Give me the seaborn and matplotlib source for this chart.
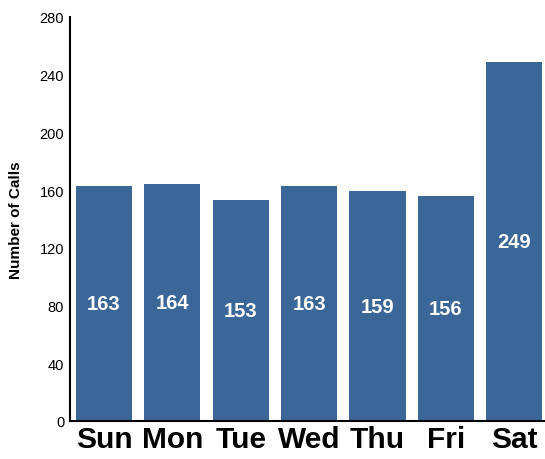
import matplotlib
matplotlib.use("Agg")
import matplotlib.pyplot as plt
import seaborn as sns
import pandas as pd

days = ["Sun", "Mon", "Tue", "Wed", "Thu", "Fri", "Sat"]
calls = [163, 164, 153, 163, 159, 156, 249]

df = pd.DataFrame({"day": days, "calls": calls})

sns.set_style("white")
plt.rcParams["font.family"] = ["Liberation Sans", "DejaVu Sans"]
plt.rcParams["text.color"] = "black"
plt.rcParams["xtick.color"] = "black"
plt.rcParams["ytick.color"] = "black"
plt.rcParams["axes.labelcolor"] = "black"

fig = plt.figure(figsize=(5.45, 4.6), dpi=100)
ax = fig.add_axes([0.128, 0.083, 0.872, 0.878])

sns.barplot(data=df, x="day", y="calls", color="#3b6698", saturation=1,
            width=0.82, linewidth=0, ax=ax)

# value labels in the middle of each bar
for i, v in enumerate(calls):
    ax.text(i, v / 2, str(v), color="white", fontweight="bold", fontsize=14.5,
            ha="center", va="center")

ax.set_ylim(0, 280)
ax.set_xlim(-0.5, 6.45)
ax.set_yticks(range(0, 281, 40))
ax.tick_params(axis="y", labelsize=10.5, length=0, pad=4)
ax.tick_params(axis="x", labelsize=21.5, length=0, pad=3)
for lab in ax.get_xticklabels():
    lab.set_fontweight("bold")
ax.set_xlabel("")
ax.set_ylabel("Number of Calls", fontweight="bold", fontsize=11, labelpad=12)

sns.despine(ax=ax)
for s in ["left", "bottom"]:
    ax.spines[s].set_color("black")
    ax.spines[s].set_linewidth(1.5)

fig.savefig("out.png", dpi=100)
